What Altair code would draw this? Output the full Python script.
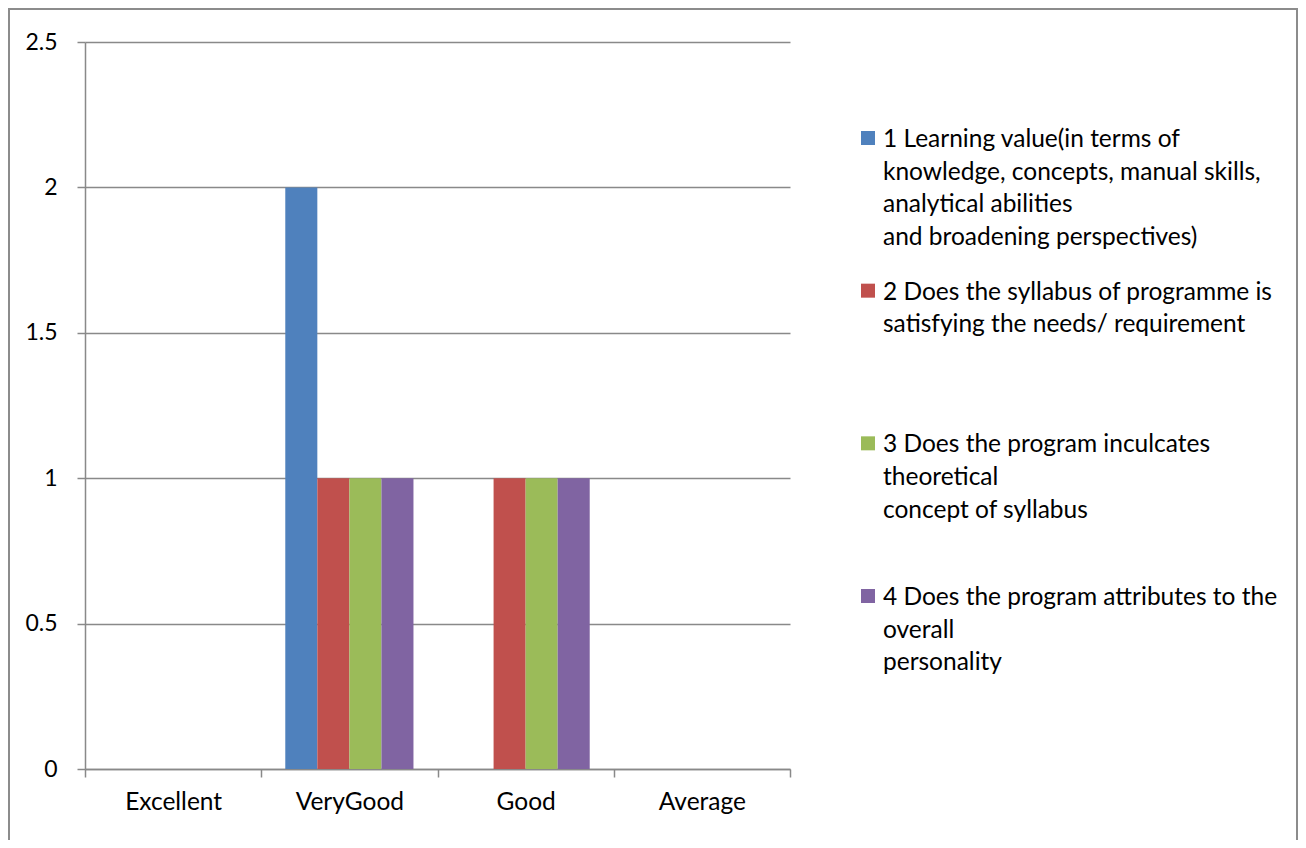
import altair as alt
import pandas as pd

categories = ["Excellent", "VeryGood", "Good", "Average"]
series = [
    "1 Learning value(in terms of\nknowledge, concepts, manual skills,\nanalytical abilities\nand broadening perspectives)",
    "2 Does the syllabus of programme is\nsatisfying the needs/ requirement",
    "3 Does the program inculcates\ntheoretical\nconcept of syllabus",
    "4 Does the program attributes to the\noverall\npersonality",
]
s1 = [0, 2, 0, 0]
s2 = [0, 1, 1, 0]
s3 = [0, 1, 1, 0]
s4 = [0, 1, 1, 0]
colors = ["#4F81BD", "#C0504D", "#9BBB59", "#8064A2"]
y_ticks = [0, 0.5, 1, 1.5, 2, 2.5]
values = [s1, s2, s3, s4]

rows = []
for s, vals in zip(series, values):
    for c, v in zip(categories, vals):
        rows.append({"cat": c, "series": s, "value": v})
df = pd.DataFrame(rows)
legend_df = pd.DataFrame({"series": series, "idx": list(range(len(series)))})

FONT = "Lato"
GRID = "#898989"
color_scale = alt.Scale(domain=series, range=colors)

bars = alt.Chart(df).mark_bar().encode(
    x=alt.X("cat:N", sort=categories,
            scale=alt.Scale(paddingInner=0, paddingOuter=0),
            axis=alt.Axis(title=None, labelAngle=0, tickBand="extent", tickSize=8,
                          labelPadding=13, labelFontSize=24.5, labelFont=FONT,
                          labelColor="#000", domainColor=GRID, tickColor=GRID,
                          domainWidth=1.5, tickWidth=1.5, grid=False)),
    xOffset=alt.XOffset("series:N", sort=series,
                        scale=alt.Scale(paddingInner=0, paddingOuter=0.75)),
    y=alt.Y("value:Q", scale=alt.Scale(domain=[0, 2.5], nice=False),
            axis=alt.Axis(title=None, values=y_ticks, tickSize=8, labelPadding=20,
                          labelExpr="datum.value + ''",
                          labelFontSize=23, labelFont=FONT, labelColor="#000",
                          domainColor=GRID, tickColor=GRID, gridColor=GRID,
                          domainWidth=1.5, tickWidth=1.5, gridWidth=1.5, grid=True)),
    color=alt.Color("series:N", scale=color_scale, legend=None),
)

leg_y = alt.Y("idx:Q", scale=alt.Scale(domain=[0, 3], range=[96, 554]), axis=None)

leg_sym = alt.Chart(legend_df).mark_square(size=196, opacity=1, clip=False).encode(
    x=alt.value(783), y=leg_y,
    color=alt.Color("series:N", scale=color_scale, legend=None),
)
leg_txt = alt.Chart(legend_df).mark_text(
    align="left", baseline="alphabetic", lineBreak="\n", lineHeight=32.7,
    fontSize=24.5, font=FONT, color="#000", dy=9, clip=False
).encode(x=alt.value(798), y=leg_y, text="series:N")

frame = alt.Chart(pd.DataFrame({"a": [0]})).mark_rect(
    fill=None, stroke="#8c8c8c", strokeWidth=2, clip=False
).encode(x=alt.value(-76), x2=alt.value(1212), y=alt.value(-33), y2=alt.value(820))

legend_layer = alt.layer(leg_sym, leg_txt)

chart = alt.layer(frame, bars, legend_layer).resolve_scale(y="independent").properties(
    width=705, height=727,
    padding={"left": 77, "top": 34, "right": 508, "bottom": 71},
    autosize=alt.AutoSizeParams(type="none"),
).configure_view(stroke=None)

chart.save("out.html", embed_options={"renderer": "svg", "actions": False})
